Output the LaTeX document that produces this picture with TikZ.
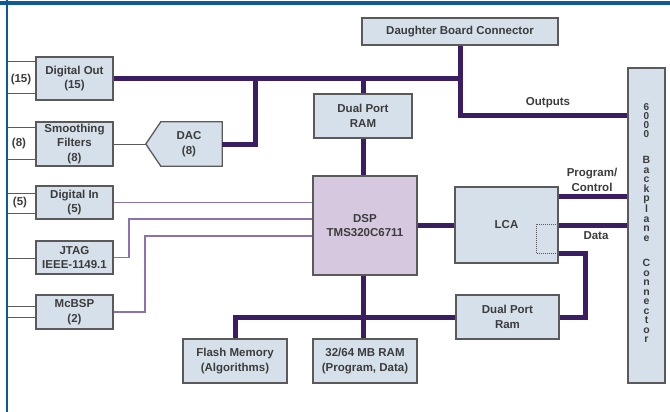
\documentclass[tikz,border=0pt]{standalone}
\usepackage{fontspec}
\setmainfont{Liberation Sans}
\usetikzlibrary{calc,backgrounds}
\definecolor{boxfill}{HTML}{D5E0EA}
\definecolor{boxline}{HTML}{5A5A5A}
\definecolor{dspfill}{HTML}{D6C8DE}
\definecolor{bus}{HTML}{3A1D63}
\definecolor{thinp}{HTML}{8C72AC}
\definecolor{frameblue}{HTML}{0D5A96}
\definecolor{txt}{HTML}{3C3C3C}
\begin{document}
\begin{tikzpicture}[x=1pt,y=-1pt,
  blk/.style={draw=boxline, line width=1.3pt, fill=boxfill, align=center, font=\bfseries\fontsize{11.5}{14.5}\selectfont, text=txt, inner sep=0pt},
  busline/.style={draw=bus, line width=5pt},
  thinline/.style={draw=thinp, line width=1.3pt},
  stub/.style={draw=boxline, line width=1pt},
  lbl/.style={font=\bfseries\fontsize{11.5}{14.5}\selectfont, text=txt, align=center, inner sep=0pt},
  vlbl/.style={font=\bfseries\fontsize{10.5}{9.5}\selectfont, text=txt, align=center, inner sep=0pt},
  vdig/.style={font=\bfseries\fontsize{10}{9}\selectfont, text=txt, align=center, inner sep=0pt}]
\useasboundingbox (0,0) rectangle (670,412);

% boxes
\node[blk, minimum width=77, minimum height=43] (dout) at (74.5,78.5) {Digital Out\\(15)};
\node[blk, minimum width=77, minimum height=44] (smooth) at (74.5,144) {Smoothing\\Filters\\(8)};
\node[lbl, minimum width=66, minimum height=44] (dac) at (189,144) {DAC\\(8)};
\node[blk, minimum width=77, minimum height=33] (din) at (74.5,202.5) {Digital In\\(5)};
\node[blk, minimum width=77, minimum height=33] (jtag) at (74.5,257.5) {JTAG\\IEEE-1149.1};
\node[blk, minimum width=77, minimum height=34] (mcbsp) at (74.5,312) {McBSP\\(2)};
\node[blk, minimum width=98, minimum height=44] (dprtop) at (363,116) {Dual Port\\RAM};
\node[blk, fill=dspfill, minimum width=104, minimum height=99] (dsp) at (365,225.5) {DSP\\TMS320C6711};
\node[blk, minimum width=103, minimum height=76] (lca) at (506.5,225) {LCA};
\node[blk, minimum width=103, minimum height=44] (dpr2) at (507.5,317) {Dual Port\\Ram};
\node[blk, minimum width=104, minimum height=44] (flash) at (235,361) {Flash Memory\\(Algorithms)};
\node[blk, minimum width=104, minimum height=44] (ram) at (365,361) {32/64 MB RAM\\(Program, Data)};
\node[blk, minimum width=196, minimum height=27] (dbc) at (460,31.5) {Daughter Board Connector};
\node[blk, minimum width=37, minimum height=315] (bp) at (646.5,225.5) {};
\node[vdig] (bp1) at (646.5,121) {6\\0\\0\\0};
\node[vlbl] (bp2) at (646.5,199) {B\\a\\c\\k\\p\\l\\a\\n\\e};
\node[vlbl] (bp3) at (646.5,301) {C\\o\\n\\n\\e\\c\\t\\o\\r};

% labels
\node[lbl] (l15) at (21,80) {(15)};
\node[lbl] (l8) at (19,144) {(8)};
\node[lbl] (l5) at (20,203) {(5)};
\node[lbl] (lout) at (548,103) {Outputs};
\node[lbl] (lpc) at (592,180) {Program/\\Control};
\node[lbl] (ldata) at (596,236) {Data};

% coordinates
\coordinate (dactip) at ($(dac.west)+(-10,0)$);
\coordinate (busR) at (460,78.5);
\coordinate (outC) at (460,116);
\coordinate (dacJ) at (255,78.5);
\coordinate (dprJ) at (363,78.5);
\coordinate (pcL) at ($(lca.north east)+(0,10)$);
\coordinate (dotA) at (536,224);
\coordinate (dotB) at (558,253);
\coordinate (rtop) at (585,253);
\coordinate (flJ) at (235,317);
\coordinate (jtA) at (129,257.5);
\coordinate (jtB) at (129,219);
\coordinate (mcA) at (145,312);
\coordinate (mcB) at (145,236);

\begin{scope}[on background layer]
\fill[white] (0,0) rectangle (670,412);
% DAC pentagon
\draw[draw=boxline, line width=1.3pt, fill=boxfill] (dac.north east) -- (dac.south east) -- ($(dac.south west)+(5,0)$) -- (dactip) -- ($(dac.north west)+(5,0)$) -- cycle;
% stubs
\draw[stub] (8,62) -- (dout.west |- 0,62);
\draw[stub] (8,94) -- (dout.west |- 0,94);
\draw[stub] (8,127) -- (smooth.west |- 0,127);
\draw[stub] (8,159) -- (smooth.west |- 0,159);
\draw[stub] (8,193) -- (din.west |- 0,193);
\draw[stub] (8,213) -- (din.west |- 0,213);
\draw[stub] (8,258) -- (jtag.west |- 0,258);
\draw[stub] (8,306) -- (mcbsp.west |- 0,306);
\draw[stub] (8,317) -- (mcbsp.west |- 0,317);
\draw[stub] (smooth.east) -- (dactip);
% buses
\draw[busline] (dout.east) -- (busR) -- (dbc.south);
\draw[busline] (busR) -- (outC) -- (outC -| bp.west);
\draw[busline] (dac.east) -| (dacJ);
\draw[busline] (dprJ) -- (dprtop.north);
\draw[busline] (dprtop.south) -- (dprtop.south |- dsp.north);
\draw[busline] (dsp.east) -- (dsp.east -| lca.west);
\draw[busline] (pcL) -- (pcL -| bp.west);
\draw[busline] (lca.east) -- (lca.east -| bp.west);
\draw[busline] (dotB) -- (rtop) |- (dpr2.east);
\draw[busline] (dpr2.west) -- (flJ) -- (flash.north);
\draw[busline] (dprtop.south |- dsp.south) -- (dprtop.south |- ram.north);
% thin purple
\draw[thinline] (din.east) -- (din.east -| dsp.west);
\draw[thinline] (jtag.east) -- (jtA) -- (jtB) -- (jtB -| dsp.west);
\draw[thinline] (mcbsp.east) -- (mcA) -- (mcB) -- (mcB -| dsp.west);
\end{scope}

% dotted region in LCA
\draw[boxline, line width=1pt, densely dotted] (dotB) -- (dotB -| dotA) -- (dotA) -- (dotA -| dotB);

% frame
\draw[frameblue, line width=3.5pt] (0,3) -- (670,3);
\draw[frameblue, line width=2.5pt] (7,0) -- (7,412);
\end{tikzpicture}
\end{document}
